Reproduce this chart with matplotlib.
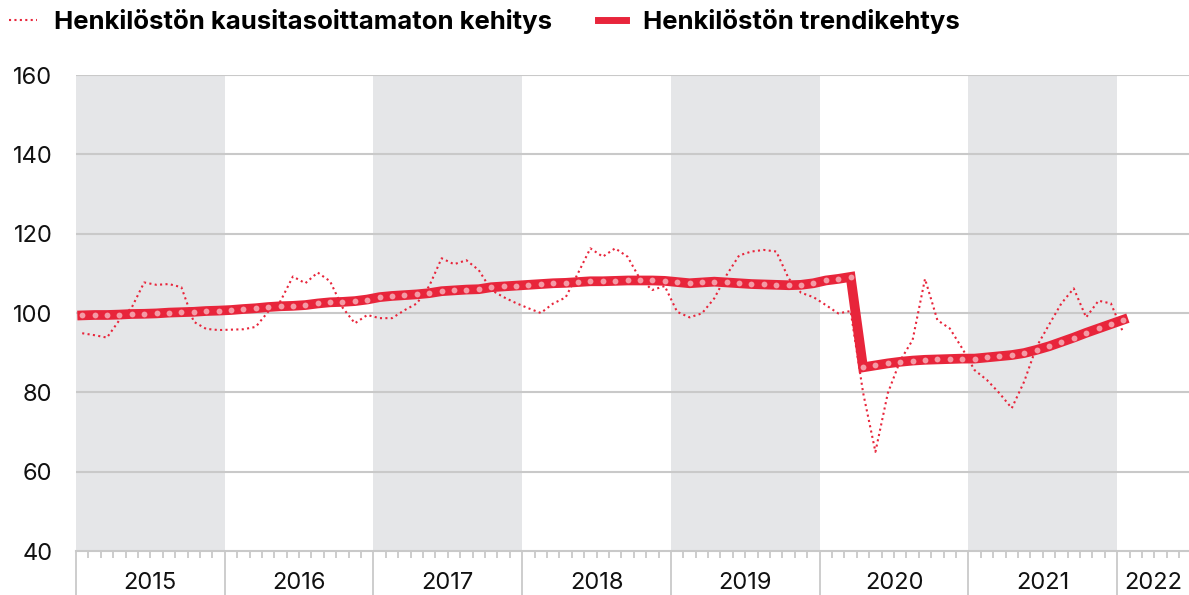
import matplotlib
matplotlib.use("Agg")
import numpy as np
import matplotlib.pyplot as plt
from matplotlib.lines import Line2D

plt.rcParams['font.family'] = ['Inter', 'DejaVu Sans']

# kuukausidata tammikuu 2015 - tammikuu 2022
kausitasoittamaton = [
    94.9, 94.4, 93.8, 98.2, 101.4, 107.7, 107.1, 107.3, 106.5, 97.8, 96.0, 95.7,
    95.8, 95.9, 96.5, 100.3, 103.0, 109.2, 107.5, 110.2, 108.0, 101.4, 97.4, 99.5,
    98.7, 98.7, 100.7, 102.4, 106.8, 113.8, 112.3, 113.3, 110.8, 105.8, 104.0, 102.5,
    101.2, 100.0, 102.4, 103.9, 110.0, 116.3, 114.2, 116.3, 114.2, 108.6, 105.8, 106.8,
    100.3, 98.9, 99.9, 103.7, 109.6, 114.5, 115.5, 115.9, 115.5, 108.7, 105.1, 104.0,
    102.0, 99.9, 100.5, 80.0, 65.0, 79.8, 88.0, 93.2, 108.6, 98.2, 96.1, 91.1,
    85.6, 83.1, 79.8, 76.0, 82.7, 91.5, 97.0, 102.4, 106.2, 98.9, 103.1, 102.4,
    95.0,
]
trendi = [
    99.4, 99.5, 99.5, 99.6, 99.75, 99.8, 99.9, 100.1, 100.2, 100.3, 100.5, 100.6,
    100.75, 101.0, 101.2, 101.5, 101.7, 101.8, 102.0, 102.4, 102.7, 102.8, 103.0, 103.4,
    104.0, 104.3, 104.5, 104.7, 105.0, 105.5, 105.7, 105.9, 106.0, 106.5, 106.7, 106.9,
    107.1, 107.3, 107.5, 107.6, 107.8, 108.0, 108.0, 108.1, 108.2, 108.2, 108.2, 108.1,
    107.8, 107.5, 107.7, 107.9, 107.7, 107.5, 107.3, 107.2, 107.1, 107.0, 107.1, 107.5,
    108.2, 108.6, 109.1, 86.3, 86.8, 87.3, 87.7, 88.0, 88.2, 88.3, 88.4, 88.5,
    88.5, 88.8, 89.1, 89.4, 89.9, 90.7, 91.6, 92.7, 93.8, 95.0, 96.1, 97.2,
    98.3,
]
vuodet = ['2015', '2016', '2017', '2018', '2019', '2020', '2021', '2022']
nimi1 = 'Henkilöstön kausitasoittamaton kehitys'
nimi2 = 'Henkilöstön trendikehtys'

punainen = '#e8253b'
vaalea = '#f49aa5'
harmaa = '#c9c9c9'

kk = np.arange(len(trendi)) + 0.5
xmax = 89.8

fig = plt.figure(figsize=(11.89, 5.95), dpi=100)
ax = fig.add_axes([76 / 1189, 1 - 551 / 595, 1 - 76 / 1189, (551 - 75) / 595])

# harmaat vuosipalkit
for n in range(0, len(vuodet), 2):
    ax.axvspan(12 * n, 12 * n + 12, color='#e5e6e8', lw=0, zorder=0)

for y in range(60, 161, 20):
    ax.axhline(y, color=harmaa, lw=1.5, zorder=1)

ax.plot(kk, kausitasoittamaton, color=punainen, lw=1.5, ls=(0, (1, 1.6)), zorder=3)
ax.plot(kk, trendi, color=punainen, lw=7, solid_joinstyle='miter', zorder=4,
        marker='o', markersize=4.2, markerfacecolor=vaalea, markeredgewidth=0)

ax.set_xlim(0, xmax)
ax.set_ylim(40, 160)
ax.set_yticks(range(40, 161, 20))
for s in ['top', 'left', 'right']:
    ax.spines[s].set_visible(False)
ax.spines['bottom'].set_color(harmaa)
ax.spines['bottom'].set_linewidth(1.5)
ax.tick_params(axis='y', length=0, pad=17, labelsize=17, labelcolor='#111111')

ax.set_xticks(range(0, 90, 12))
ax.set_xticks([m for m in range(1, 90) if m % 12 != 0], minor=True)
ax.set_xticklabels([])
ax.tick_params(axis='x', which='major', length=32, width=1.3, color=harmaa)
ax.tick_params(axis='x', which='minor', length=5, width=1.3, color=harmaa)

for n, v in enumerate(vuodet):
    keski = 12 * n + 6 if n < len(vuodet) - 1 else (12 * n + xmax) / 2
    ax.text(keski, -0.067, v, transform=ax.get_xaxis_transform(),
            ha='center', va='center', fontsize=17, color='#111111')

kahvat = [Line2D([], [], color=punainen, lw=1.5, ls=(0, (1, 1.6))),
          Line2D([], [], color=punainen, lw=5)]
fig.legend(kahvat, [nimi1, nimi2], loc='upper left', bbox_to_anchor=(0.003, 0.993),
           ncol=2, frameon=False, prop={'size': 18.5, 'weight': 'bold'},
           handlelength=1.1, handletextpad=0.65, columnspacing=1.8,
           borderaxespad=0.0, borderpad=0.2)

fig.savefig('out.png', dpi=100)
